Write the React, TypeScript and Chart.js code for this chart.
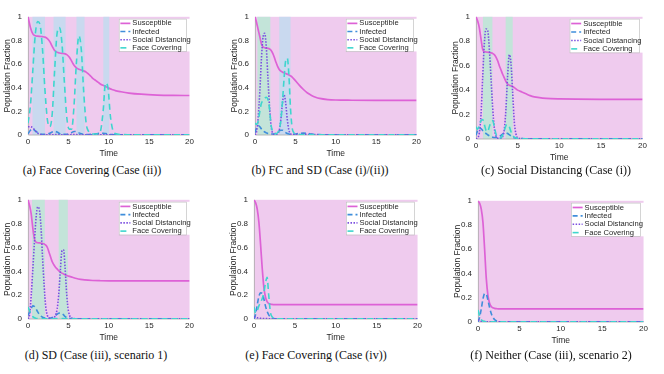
import React, { useEffect, useRef } from "react";
import { Chart, registerables } from "chart.js";

Chart.register(...registerables);

// ---------------- data ----------------
const SERIES_NAMES = ["Susceptible", "Infected", "Social Distancing", "Face Covering"];
const CAPTIONS = [
  "(a) Face Covering (Case (ii))",
  "(b) FC and SD (Case (i)/(ii))",
  "(c) Social Distancing (Case (i))",
  "(d) SD (Case (iii), scenario 1)",
  "(e) Face Covering (Case (iv))",
  "(f) Neither (Case (iii), scenario 2)",
];
const X_TICKS = [0, 5, 10, 15, 20];
const Y_TICKS = [0, 0.2, 0.4, 0.6, 0.8, 1];

// panel (a)
const tA = [0, 0.3, 0.6, 0.9, 1.2, 1.5, 1.8, 2.1, 2.4, 2.7, 3.0, 3.3, 3.6, 3.9, 4.2, 4.5, 4.8, 5.1, 5.4, 5.7, 6.0, 6.3, 6.6, 6.9, 7.2, 7.5, 7.8, 8.1, 8.4, 8.7, 9.0, 9.3, 9.6, 9.9, 10.2, 10.5, 10.8, 11.5, 12.5, 14, 16, 18, 20];
const sA = [1.0, 0.91, 0.855, 0.84, 0.836, 0.834, 0.832, 0.828, 0.815, 0.79, 0.75, 0.715, 0.70, 0.694, 0.69, 0.688, 0.68, 0.66, 0.625, 0.59, 0.568, 0.556, 0.55, 0.542, 0.532, 0.515, 0.495, 0.475, 0.46, 0.445, 0.43, 0.42, 0.41, 0.40, 0.39, 0.383, 0.376, 0.366, 0.355, 0.345, 0.338, 0.335, 0.334];
const iA = [0.01, 0.04, 0.05, 0.035, 0.02, 0.01, 0.006, 0.005, 0.008, 0.015, 0.025, 0.03, 0.025, 0.013, 0.007, 0.005, 0.006, 0.01, 0.02, 0.03, 0.028, 0.018, 0.01, 0.006, 0.004, 0.004, 0.005, 0.007, 0.01, 0.013, 0.015, 0.015, 0.012, 0.008, 0.004, 0.003, 0.002, 0.002, 0.001, 0.001, 0.001, 0.001, 0.001];
const sdA = [0.07, 0.07, 0.06, 0.035, 0.015, 0.006, 0.003, 0.002, 0.002, 0.002, 0.002, 0.003, 0.003, 0.002, 0.002, 0.002, 0.002, 0.002, 0.003, 0.003, 0.003, 0.002, 0.002, 0.002, 0.002, 0.002, 0.002, 0.002, 0.002, 0.002, 0.002, 0.002, 0.002, 0.002, 0.002, 0.001, 0.001, 0.001, 0.001, 0.001, 0.001, 0.001, 0.001];
const fcA = [0.10, 0.25, 0.55, 0.85, 0.96, 0.93, 0.72, 0.38, 0.13, 0.07, 0.18, 0.55, 0.86, 0.91, 0.78, 0.45, 0.15, 0.05, 0.05, 0.25, 0.62, 0.84, 0.72, 0.36, 0.10, 0.03, 0.012, 0.008, 0.008, 0.012, 0.04, 0.2, 0.44, 0.40, 0.16, 0.04, 0.012, 0.004, 0.002, 0.001, 0.001, 0.001, 0.001];
const blueA = [[0.55, 2.1], [3.16, 4.65], [6.0, 7.0], [9.32, 10.06]];
const greenA: number[][] = [];

// panel (b)
const tB = [0, 0.2, 0.4, 0.6, 0.8, 1.0, 1.2, 1.4, 1.6, 1.8, 2.0, 2.2, 2.4, 2.6, 2.8, 3.0, 3.2, 3.4, 3.6, 3.8, 4.0, 4.2, 4.4, 4.6, 4.8, 5.0, 5.5, 6, 6.5, 7, 7.5, 8, 9, 10, 12, 15, 20];
const sB = [1.0, 0.95, 0.89, 0.83, 0.77, 0.745, 0.738, 0.735, 0.733, 0.728, 0.715, 0.69, 0.655, 0.615, 0.58, 0.555, 0.54, 0.532, 0.527, 0.52, 0.515, 0.508, 0.50, 0.49, 0.475, 0.46, 0.42, 0.385, 0.355, 0.335, 0.32, 0.31, 0.30, 0.296, 0.294, 0.293, 0.293];
const iB = [0.02, 0.06, 0.08, 0.07, 0.05, 0.035, 0.025, 0.018, 0.012, 0.01, 0.008, 0.008, 0.01, 0.015, 0.025, 0.035, 0.04, 0.04, 0.03, 0.02, 0.012, 0.008, 0.006, 0.006, 0.007, 0.009, 0.014, 0.016, 0.013, 0.008, 0.005, 0.003, 0.002, 0.001, 0.001, 0.001, 0.001];
const sdB = [0.0, 0.03, 0.15, 0.37, 0.65, 0.83, 0.86, 0.74, 0.48, 0.24, 0.07, 0.015, 0.005, 0.005, 0.01, 0.04, 0.13, 0.27, 0.34, 0.27, 0.13, 0.04, 0.01, 0.004, 0.003, 0.003, 0.004, 0.006, 0.005, 0.004, 0.003, 0.002, 0.002, 0.001, 0.001, 0.001, 0.001];
const fcB = [0.10, 0.09, 0.12, 0.2, 0.27, 0.29, 0.31, 0.32, 0.3, 0.22, 0.08, 0.03, 0.01, 0.01, 0.02, 0.05, 0.12, 0.28, 0.48, 0.63, 0.65, 0.5, 0.22, 0.06, 0.02, 0.008, 0.003, 0.002, 0.002, 0.001, 0.001, 0.001, 0.001, 0.001, 0.001, 0.001, 0.001];
const blueB = [[3.0, 4.4]];
const greenB = [[0.3, 1.9]];

// panel (c)
const tC = [0, 0.2, 0.4, 0.6, 0.8, 1.0, 1.2, 1.4, 1.6, 1.8, 2.0, 2.2, 2.4, 2.6, 2.8, 3.0, 3.2, 3.4, 3.6, 3.8, 4.0, 4.2, 4.4, 4.6, 4.8, 5.0, 5.5, 6, 6.5, 7, 8, 9, 10, 12, 15, 20];
const sC = [1.0, 0.965, 0.91, 0.82, 0.735, 0.715, 0.712, 0.71, 0.708, 0.705, 0.70, 0.69, 0.67, 0.64, 0.60, 0.565, 0.53, 0.50, 0.47, 0.45, 0.44, 0.435, 0.43, 0.42, 0.41, 0.40, 0.385, 0.37, 0.355, 0.345, 0.335, 0.33, 0.328, 0.326, 0.325, 0.325];
const iC = [0.03, 0.07, 0.09, 0.085, 0.07, 0.055, 0.045, 0.035, 0.027, 0.02, 0.015, 0.012, 0.012, 0.015, 0.02, 0.03, 0.04, 0.05, 0.05, 0.045, 0.035, 0.025, 0.015, 0.01, 0.006, 0.004, 0.003, 0.002, 0.002, 0.001, 0.001, 0.001, 0.001, 0.001, 0.001, 0.001];
const sdC = [0.0, 0.01, 0.05, 0.2, 0.5, 0.78, 0.90, 0.89, 0.74, 0.5, 0.26, 0.09, 0.025, 0.008, 0.004, 0.006, 0.02, 0.08, 0.25, 0.52, 0.69, 0.62, 0.38, 0.14, 0.04, 0.01, 0.003, 0.002, 0.002, 0.002, 0.001, 0.001, 0.001, 0.001, 0.001, 0.001];
const fcC = [0.10, 0.08, 0.11, 0.15, 0.16, 0.12, 0.07, 0.06, 0.1, 0.14, 0.15, 0.1, 0.04, 0.015, 0.008, 0.01, 0.03, 0.07, 0.11, 0.12, 0.1, 0.06, 0.03, 0.015, 0.008, 0.005, 0.003, 0.002, 0.002, 0.001, 0.001, 0.001, 0.001, 0.001, 0.001, 0.001];
const blueC: number[][] = [];
const greenC = [[0.83, 1.97], [3.56, 4.41]];

// panel (d)
const tD = [0, 0.2, 0.4, 0.6, 0.8, 1.0, 1.2, 1.4, 1.6, 1.8, 2.0, 2.2, 2.4, 2.6, 2.8, 3.0, 3.2, 3.4, 3.6, 3.8, 4.0, 4.2, 4.4, 4.6, 4.8, 5.0, 5.5, 6, 6.5, 7, 8, 9, 10, 12, 15, 20];
const sD = [1.0, 0.95, 0.88, 0.76, 0.67, 0.645, 0.64, 0.638, 0.636, 0.634, 0.63, 0.62, 0.60, 0.56, 0.52, 0.48, 0.455, 0.435, 0.42, 0.405, 0.395, 0.385, 0.378, 0.37, 0.365, 0.36, 0.35, 0.34, 0.333, 0.328, 0.323, 0.321, 0.32, 0.32, 0.32, 0.32];
const iD = [0.03, 0.06, 0.09, 0.11, 0.105, 0.085, 0.06, 0.04, 0.025, 0.015, 0.01, 0.007, 0.006, 0.006, 0.008, 0.012, 0.02, 0.03, 0.04, 0.048, 0.05, 0.045, 0.035, 0.02, 0.012, 0.007, 0.003, 0.002, 0.002, 0.001, 0.001, 0.001, 0.001, 0.001, 0.001, 0.001];
const sdD = [0.0, 0.04, 0.2, 0.42, 0.65, 0.85, 0.94, 0.92, 0.78, 0.52, 0.28, 0.1, 0.03, 0.01, 0.005, 0.005, 0.01, 0.03, 0.08, 0.2, 0.4, 0.57, 0.58, 0.42, 0.2, 0.07, 0.005, 0.002, 0.002, 0.002, 0.001, 0.001, 0.001, 0.001, 0.001, 0.001];
const fcD = [0.10, 0.07, 0.04, 0.02, 0.01, 0.005, 0.003, 0.002, 0.002, 0.002, 0.002, 0.002, 0.002, 0.002, 0.002, 0.002, 0.002, 0.003, 0.004, 0.005, 0.005, 0.004, 0.003, 0.002, 0.002, 0.002, 0.001, 0.001, 0.001, 0.001, 0.001, 0.001, 0.001, 0.001, 0.001, 0.001];
const blueD: number[][] = [];
const greenD = [[0.5, 2.08], [3.8, 4.93]];

// panel (e)
const tE = [0, 0.2, 0.4, 0.6, 0.8, 1.0, 1.2, 1.4, 1.6, 1.8, 2.0, 2.2, 2.4, 2.6, 2.8, 3.0, 3.5, 4, 5, 6, 8, 10, 12, 15, 20];
const sE = [1.0, 0.975, 0.92, 0.81, 0.63, 0.43, 0.27, 0.185, 0.145, 0.13, 0.125, 0.122, 0.121, 0.12, 0.12, 0.12, 0.12, 0.12, 0.12, 0.12, 0.12, 0.12, 0.12, 0.12, 0.12];
const iE = [0.0, 0.04, 0.12, 0.19, 0.22, 0.215, 0.17, 0.11, 0.065, 0.035, 0.018, 0.009, 0.004, 0.002, 0.001, 0.001, 0.001, 0.001, 0.001, 0.001, 0.001, 0.001, 0.001, 0.001, 0.001];
const sdE = [0.02, 0.015, 0.01, 0.008, 0.006, 0.005, 0.004, 0.003, 0.003, 0.002, 0.002, 0.002, 0.002, 0.002, 0.002, 0.002, 0.002, 0.002, 0.002, 0.002, 0.002, 0.002, 0.002, 0.002, 0.002];
const fcE = [0.10, 0.05, 0.07, 0.11, 0.14, 0.17, 0.22, 0.30, 0.35, 0.2, 0.06, 0.02, 0.008, 0.003, 0.002, 0.001, 0.001, 0.001, 0.001, 0.001, 0.001, 0.001, 0.001, 0.001, 0.001];
const blueE: number[][] = [];
const greenE: number[][] = [];

// panel (f)
const tF = [0, 0.2, 0.4, 0.6, 0.8, 1.0, 1.2, 1.4, 1.6, 1.8, 2.0, 2.2, 2.4, 2.6, 2.8, 3.0, 3.5, 4, 5, 6, 8, 10, 12, 15, 20];
const sF = [1.0, 0.98, 0.93, 0.82, 0.60, 0.36, 0.22, 0.155, 0.128, 0.117, 0.112, 0.11, 0.109, 0.108, 0.108, 0.108, 0.108, 0.108, 0.108, 0.108, 0.108, 0.108, 0.108, 0.108, 0.108];
const iF = [0.0, 0.04, 0.11, 0.19, 0.235, 0.23, 0.18, 0.12, 0.07, 0.04, 0.02, 0.01, 0.005, 0.002, 0.001, 0.001, 0.001, 0.001, 0.001, 0.001, 0.001, 0.001, 0.001, 0.001, 0.001];
const sdF = [0.02, 0.01, 0.006, 0.004, 0.003, 0.002, 0.002, 0.002, 0.002, 0.002, 0.002, 0.002, 0.002, 0.002, 0.002, 0.002, 0.002, 0.002, 0.002, 0.002, 0.002, 0.002, 0.002, 0.002, 0.002];
const fcF = [0.10, 0.05, 0.02, 0.008, 0.004, 0.002, 0.001, 0.001, 0.001, 0.001, 0.001, 0.001, 0.001, 0.001, 0.001, 0.001, 0.001, 0.001, 0.001, 0.001, 0.001, 0.001, 0.001, 0.001, 0.001];
const blueF: number[][] = [];
const greenF: number[][] = [];

// ---------------- styles / layout ----------------
const C_S = "#dd62d6";
const C_I = "#3f8edb";
const C_SD = "#7b4fe0";
const C_FC = "#3ed6ce";
const PINK = "#efcbee";
const BLUE = "#c9d9ef";
const GREEN = "#c3e4d9";
const TEXT = "#262626";
const SANS = '"Liberation Sans", Arial, Helvetica, sans-serif';
const SERIF = '"Liberation Serif", "Times New Roman", serif';

const YW = 28; // y-axis block width
const XH = 26; // x-axis block height
const PT = 6; // top padding
const PR = 6; // right padding

type Geom = { l: number; t: number; r: number; b: number; cx: number; cy: number };

const PANELS = [
  { t: tA, s: sA, i: iA, sd: sdA, fc: fcA, blue: blueA, green: greenA, g: { l: 28, t: 12, r: 190, b: 135, cx: 92, cy: 170 } },
  { t: tB, s: sB, i: iB, sd: sdB, fc: fcB, blue: blueB, green: greenB, g: { l: 255, t: 12, r: 417, b: 135, cx: 320, cy: 170 } },
  { t: tC, s: sC, i: iC, sd: sdC, fc: fcC, blue: blueC, green: greenC, g: { l: 476, t: 12, r: 643, b: 139, cx: 556, cy: 170 } },
  { t: tD, s: sD, i: iD, sd: sdD, fc: fcD, blue: blueD, green: greenD, g: { l: 28, t: 195, r: 190, b: 319, cx: 96, cy: 355 } },
  { t: tE, s: sE, i: iE, sd: sdE, fc: fcE, blue: blueE, green: greenE, g: { l: 254, t: 195, r: 418, b: 319, cx: 316, cy: 355 } },
  { t: tF, s: sF, i: iF, sd: sdF, fc: fcF, blue: blueF, green: greenF, g: { l: 478, t: 196, r: 644, b: 322, cx: 551, cy: 355 } },
];

const pts = (t: number[], v: number[]) => t.map((x, k) => ({ x, y: v[k] }));

const STYLES = [
  { color: C_S, dash: [] as number[], width: 1.7 },
  { color: C_I, dash: [5, 3], width: 1.6 },
  { color: C_SD, dash: [1.5, 1.5], width: 1.6 },
  { color: C_FC, dash: [6, 4], width: 1.6 },
];

function PanelChart({ p }: { p: (typeof PANELS)[number] }) {
  const ref = useRef<HTMLCanvasElement>(null);
  const g: Geom = p.g;
  const w = g.r - g.l + YW + PR;
  const h = g.b - g.t + PT + XH;

  useEffect(() => {
    const bg = {
      id: "bgShade",
      beforeDatasetsDraw(chart: any) {
        const { ctx, chartArea: a, scales } = chart;
        const x = scales.x;
        const y = scales.y;
        ctx.save();
        const x0 = x.getPixelForValue(0);
        const x1 = x.getPixelForValue(20);
        const y1 = y.getPixelForValue(1);
        const y0 = y.getPixelForValue(0);
        ctx.fillStyle = PINK;
        ctx.fillRect(x0, y1, x1 - x0, y0 - y1);
        const draw = (list: number[][], col: string) => {
          ctx.fillStyle = col;
          list.forEach(([s, e]) => {
            const a1 = x.getPixelForValue(s);
            const a2 = x.getPixelForValue(e);
            ctx.fillRect(a1, y1, a2 - a1, y0 - y1);
          });
        };
        draw(p.blue, BLUE);
        draw(p.green, GREEN);
        ctx.strokeStyle = "#a8a8a8";
        ctx.lineWidth = 0.8;
        ctx.beginPath();
        ctx.moveTo(a.left + 0.4, a.top);
        ctx.lineTo(a.left + 0.4, a.bottom);
        ctx.lineTo(a.right, a.bottom);
        ctx.stroke();
        ctx.restore();
      },
    };
    const legend = {
      id: "boxLegend",
      afterDatasetsDraw(chart: any) {
        const { ctx, chartArea: a, scales } = chart;
        const y = scales.y;
        const wA = a.right - a.left;
        const L = a.left + wA * 0.5625;
        const R = a.left + wA * 0.98;
        const T = a.top + 2;
        const B = y.getPixelForValue(0.707);
        ctx.save();
        ctx.fillStyle = "#ffffff";
        ctx.fillRect(L, T, a.right + 1 - L, B - T);
        ctx.strokeStyle = "#b8b8b8";
        ctx.lineWidth = 0.6;
        ctx.strokeRect(L + 0.3, T + 0.3, R - L, B - T);
        const step = (B - T) / 4;
        SERIES_NAMES.forEach((name, k) => {
          const cy = T + step * (k + 0.5) + 0.5;
          const st = STYLES[k];
          ctx.strokeStyle = st.color;
          ctx.lineWidth = st.width;
          ctx.setLineDash(st.dash);
          ctx.beginPath();
          ctx.moveTo(L + 1.5, cy);
          ctx.lineTo(L + 11.5, cy);
          ctx.stroke();
          ctx.setLineDash([]);
          ctx.fillStyle = TEXT;
          ctx.font = `7.6px ${SANS}`;
          ctx.textBaseline = "middle";
          ctx.textAlign = "left";
          ctx.fillText(name, L + 13.5, cy);
        });
        ctx.restore();
      },
    };

    const series = [p.s, p.i, p.sd, p.fc];
    const chart = new Chart(ref.current as HTMLCanvasElement, {
      type: "line",
      data: {
        datasets: series.map((v, k) => ({
          label: SERIES_NAMES[k],
          data: pts(p.t, v),
          borderColor: STYLES[k].color,
          borderWidth: STYLES[k].width,
          borderDash: STYLES[k].dash,
          pointRadius: 0,
          fill: false,
          cubicInterpolationMode: "monotone" as const,
          order: 3 - k,
        })),
      },
      options: {
        animation: false,
        responsive: false,
        maintainAspectRatio: false,
        devicePixelRatio: 1,
        layout: { padding: { top: PT, right: PR, left: 0, bottom: 0 } },
        plugins: { legend: { display: false }, tooltip: { enabled: false } },
        scales: {
          x: {
            type: "linear",
            min: 0,
            max: 20,
            afterBuildTicks: (ax: any) => {
              ax.ticks = X_TICKS.map((v) => ({ value: v }));
            },
            ticks: { color: TEXT, font: { family: SANS, size: 8 }, padding: 2, maxRotation: 0, autoSkip: false },
            grid: { display: false, drawTicks: false },
            border: { display: false },
            title: { display: true, text: "Time", color: TEXT, font: { family: SANS, size: 8.5 }, padding: { top: 0, bottom: 2.5 } },
            afterFit: (ax: any) => {
              ax.height = XH;
            },
          },
          y: {
            min: 0,
            max: 1,
            afterBuildTicks: (ax: any) => {
              ax.ticks = Y_TICKS.map((v) => ({ value: v }));
            },
            ticks: {
              color: TEXT,
              font: { family: SANS, size: 8 },
              padding: 6,
              autoSkip: false,
              callback: (v: any) => String(Number(Number(v).toFixed(1))),
            },
            grid: { display: false, drawTicks: false },
            border: { display: false },
            title: { display: true, text: "Population Fraction", color: TEXT, font: { family: SANS, size: 8.5 }, padding: { top: 2.8, bottom: 0 } },
            afterFit: (ax: any) => {
              ax.width = YW;
            },
          },
        },
      },
      plugins: [bg, legend],
    } as any);
    return () => chart.destroy();
  }, []);

  return (
    <canvas
      ref={ref}
      width={w}
      height={h}
      style={{ position: "absolute", left: g.l - YW, top: g.t - PT, width: w, height: h }}
    />
  );
}

export default function App() {
  return (
    <div style={{ position: "absolute", left: 0, top: 0, width: 664, height: 374, background: "#ffffff", overflow: "hidden" }}>
      {PANELS.map((p, k) => (
        <React.Fragment key={k}>
          <PanelChart p={p} />
          <div
            style={{
              position: "absolute",
              left: p.g.cx,
              top: p.g.cy - 8,
              transform: "translateX(-50%)",
              fontFamily: SERIF,
              fontSize: 12,
              color: "#111",
              whiteSpace: "nowrap",
              lineHeight: "16px",
            }}
          >
            {CAPTIONS[k]}
          </div>
        </React.Fragment>
      ))}
    </div>
  );
}
